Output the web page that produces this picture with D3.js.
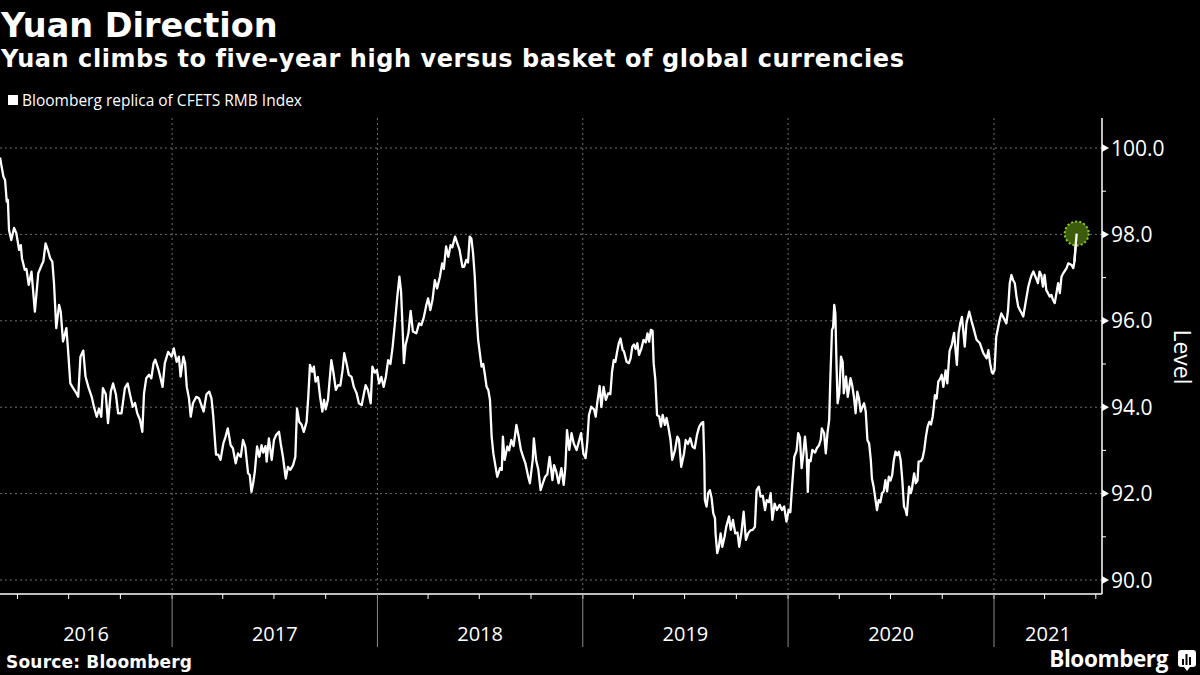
<!DOCTYPE html>
<html><head><meta charset="utf-8">
<script src="https://cdn.jsdelivr.net/npm/d3@7"></script>
<style>
html,body{margin:0;padding:0;background:#000;}
svg{display:block;}
</style></head>
<body>
<svg id="chart" width="1200" height="675"></svg>
<script>
// ---- DATA: [day of year, index level] per calendar year ----
const obs2016 = [[61,99.78],[67,99.34],[70,99.26],[73,98.76],[75,98.8],[77,98.1],[81,97.87],[86,98.15],[90,98.03],[95,97.64],[98,97.75],[100,97.45],[105,97.18],[108,97.2],[112,96.83],[117,97.14],[123,96.21],[129,97.1],[135,97.29],[138,97.37],[142,97.79],[147,97.6],[150,97.45],[154,97.37],[157,96.87],[161,95.83],[166,96.37],[169,96.21],[173,95.52],[179,95.83],[182,95.32],[186,94.55],[191,94.44],[197,94.32],[200,94.24],[204,95.17],[209,95.31],[213,94.71],[218,94.47],[224,94.24],[228,94.01],[233,93.78],[237,93.97],[241,93.78],[244,94.44],[249,94.3],[253,93.63],[258,94.36],[262,94.55],[267,94.3],[271,93.86],[277,93.86],[283,94.44],[288,94.55],[292,94.3],[297,94.01],[301,94.1],[305,93.86],[310,93.7],[314,93.43],[317,94.32],[321,94.67],[326,94.75],[330,94.67],[334,95.02],[337,95.1],[342,94.9],[345,94.75],[350,94.47],[354,95.02],[360,95.28],[366,95.17]];
const obs2017 = [[4,95.36],[9,95.05],[13,95.17],[16,94.71],[21,95.17],[24,95.02],[27,94.47],[31,94.2],[34,93.78],[38,94.09],[44,94.24],[49,94.2],[53,94.05],[57,93.9],[62,94.3],[67,94.36],[71,94.2],[74,93.8],[79,92.9],[83,92.9],[87,92.78],[92,93.16],[96,93.32],[100,93.51],[105,93.12],[109,93.05],[114,92.7],[118,92.93],[123,92.85],[127,93.24],[131,93.09],[136,92.47],[139,92.43],[142,92.04],[145,92.24],[148,92.51],[152,93.09],[156,92.85],[160,93.12],[163,92.95],[167,93.1],[169,92.74],[173,93.28],[178,92.78],[182,93.24],[186,93.36],[191,93.43],[194,93.16],[198,92.85],[203,92.35],[207,92.62],[211,92.55],[216,92.66],[220,92.85],[223,93.97],[227,93.66],[231,93.6],[235,93.43],[240,93.66],[243,94.24],[246,94.98],[250,94.82],[253,94.94],[256,94.59],[260,94.7],[264,94.24],[268,93.9],[271,94.17],[274,93.95],[278,94.17],[281,94.63],[284,95.09],[288,94.78],[292,94.4],[296,94.51],[300,94.5],[304,94.86],[307,95.25],[311,95.02],[315,94.75],[320,94.7],[324,94.47],[329,94.32],[333,94.09],[338,94.05],[342,94.32],[345,94.51],[349,94.4],[354,94.09],[357,94.94],[361,94.8],[365,94.86]];
const obs2018 = [[4,94.55],[8,94.7],[12,94.47],[16,94.71],[20,95.09],[24,95.0],[28,95.4],[32,95.94],[36,96.52],[40,97.02],[43,96.67],[46,95.71],[48,95.02],[51,95.44],[56,95.71],[60,96.23],[64,95.75],[70,95.71],[75,95.94],[79,95.9],[83,96.06],[88,96.37],[91,96.52],[95,96.25],[99,96.5],[103,96.94],[107,96.75],[112,97.02],[116,97.33],[119,97.2],[123,97.72],[127,97.48],[131,97.75],[134,97.7],[139,97.95],[143,97.79],[147,97.64],[152,97.25],[155,97.25],[159,97.41],[162,97.35],[165,97.95],[168,97.9],[171,97.56],[174,97.02],[177,96.17],[180,95.56],[183,95.25],[186,94.94],[189,95.0],[192,94.75],[195,94.47],[198,94.4],[201,94.17],[204,93.32],[207,92.93],[211,92.62],[214,92.39],[219,92.59],[222,92.55],[224,93.32],[227,92.78],[232,93.09],[235,93.0],[239,93.24],[243,93.1],[248,93.59],[252,93.32],[256,93.01],[260,92.85],[264,92.7],[269,92.39],[272,92.24],[277,92.78],[279,93.28],[283,92.78],[287,92.55],[291,92.08],[295,92.24],[299,92.39],[303,92.45],[307,92.85],[312,92.31],[315,92.66],[319,92.5],[323,92.24],[328,92.59],[332,92.2],[335,92.6],[338,93.47],[342,93.01],[346,93.4],[350,93.16],[355,93.01],[359,93.2],[363,93.4]];
const obs2019 = [[2,92.93],[6,92.82],[9,93.2],[12,93.82],[16,94.01],[21,93.95],[24,93.78],[27,94.13],[31,94.49],[34,94.0],[38,94.47],[42,94.17],[46,94.32],[50,94.3],[53,94.82],[56,95.09],[59,95.05],[62,95.28],[65,95.48],[68,95.59],[72,95.32],[74,95.3],[79,95.05],[83,95.02],[86,95.13],[89,95.4],[92,95.45],[95,95.35],[98,95.48],[101,95.21],[105,95.35],[109,95.56],[113,95.5],[116,95.71],[119,95.52],[122,95.79],[125,95.77],[127,95.02],[130,94.63],[133,93.82],[137,93.78],[140,93.55],[143,93.82],[147,93.59],[150,93.75],[153,93.55],[157,93.24],[160,92.78],[165,93.01],[169,93.32],[172,93.25],[176,92.62],[181,92.93],[184,93.24],[188,93.15],[192,93.28],[196,93.09],[200,93.05],[204,93.36],[208,93.55],[212,93.63],[215,93.66],[217,92.78],[218,91.85],[221,91.7],[224,92.01],[227,92.08],[230,91.9],[233,91.54],[236,91.43],[237,91.08],[240,90.62],[243,90.77],[246,91.08],[249,90.77],[253,91.0],[256,91.23],[261,91.47],[264,91.16],[268,91.39],[272,91.08],[276,91.1],[279,90.77],[283,91.1],[287,91.58],[291,90.93],[295,91.08],[299,91.15],[303,91.16],[307,91.23],[310,92.08],[314,92.16],[317,91.93],[321,91.95],[325,91.62],[328,91.85],[332,91.8],[335,92.01],[338,91.39],[342,91.77],[346,91.62],[351,91.74],[355,91.62],[359,91.7],[363,91.35]];
const obs2020 = [[2,91.62],[5,91.57],[8,92.16],[12,92.85],[16,92.99],[19,93.4],[22,93.3],[25,92.59],[28,92.9],[31,93.32],[34,92.9],[36,92.04],[38,92.78],[41,92.75],[44,93.01],[49,92.95],[52,93.05],[56,93.12],[59,93.25],[61,93.51],[65,93.4],[68,92.93],[71,93.4],[74,93.7],[76,94.63],[79,95.79],[81,95.85],[83,96.37],[85,96.17],[87,95.02],[89,94.09],[92,94.32],[95,95.17],[98,95.05],[100,94.32],[104,94.71],[107,94.24],[109,94.4],[112,94.67],[115,94.5],[118,94.24],[121,93.86],[124,94.36],[127,94.2],[130,93.9],[133,94.0],[136,94.09],[139,93.9],[142,93.24],[145,93.16],[148,92.78],[150,92.35],[153,92.16],[156,91.89],[159,91.62],[162,91.85],[165,91.8],[168,92.01],[171,92.05],[174,92.31],[177,92.05],[180,92.39],[183,92.3],[186,92.43],[189,92.78],[192,92.97],[195,92.89],[198,92.97],[201,92.78],[204,92.31],[207,91.7],[210,91.62],[212,91.5],[216,92.16],[219,92.01],[221,92.1],[225,92.47],[228,92.24],[231,92.3],[233,92.74],[237,92.75],[240,92.82],[243,93.01],[246,93.32],[249,93.55],[252,93.66],[255,93.6],[258,93.78],[260,94.01],[262,94.28],[265,94.2],[268,94.59],[271,94.65],[274,94.75],[277,94.47],[281,94.85],[284,94.55],[288,95.3],[292,95.45],[296,95.72],[301,94.98],[304,95.71],[307,95.94],[310,96.09],[315,95.4],[318,95.94],[323,96.21],[327,96.0],[330,95.86],[336,95.56],[342,95.48],[348,95.25],[354,95.13],[357,95.32],[360,95.02],[363,94.82],[365,94.78]];
const obs2021 = [[2,94.86],[5,95.63],[11,96.02],[14,96.17],[17,96.1],[23,95.94],[26,96.25],[29,96.87],[32,97.06],[35,96.94],[38,96.87],[41,96.56],[44,96.33],[47,96.25],[50,96.18],[53,96.1],[56,96.33],[59,96.56],[62,96.79],[65,96.94],[68,97.06],[71,97.14],[76,96.98],[79,96.87],[82,97.14],[85,97.06],[88,96.79],[91,97.06],[94,96.71],[97,96.64],[100,96.56],[103,96.6],[106,96.48],[109,96.41],[112,96.64],[115,96.87],[118,96.64],[121,97.02],[124,97.1],[130,97.22],[133,97.33],[139,97.29],[142,97.22],[144,97.37],[146,97.72],[148,98.02]];
const seriesByYear = {2016: obs2016, 2017: obs2017, 2018: obs2018, 2019: obs2019, 2020: obs2020, 2021: obs2021};
const xDomain = ["2016-03-01", "2021-07-12"];
const yTicks = [90, 92, 94, 96, 98, 100];
const yMinorTicks = [91, 93, 95, 97, 99];
const titleText = "Yuan Direction";
const subtitleText = "Yuan climbs to five-year high versus basket of global currencies";
const legendText = "Bloomberg replica of CFETS RMB Index";
const axisTitle = "Level";
const sourceText = "Source: Bloomberg";

// ---- BUILD ----
const parseDOY = d3.utcParse("%Y-%j");
const parseISO = d3.utcParse("%Y-%m-%d");
const data = [];
Object.keys(seriesByYear).forEach(yr => {
  seriesByYear[yr].forEach(([doy, v]) => {
    data.push({date: parseDOY(yr + "-" + String(doy).padStart(3, "0")), value: v});
  });
});

const svg = d3.select("#chart");
const W = 1200, H = 675;
const plot = {left: 0, right: 1102, top: 118, bottom: 594};

const x = d3.scaleUtc().domain(xDomain.map(parseISO)).range([plot.left, plot.right]);
const y = d3.scaleLinear().domain([90, 100]).range([580, 148]);

svg.append("rect").attr("width", W).attr("height", H).attr("fill", "#000");

const FONT = "'Open Sans', 'Noto Sans', sans-serif";
const BOLD = "'DejaVu Sans', sans-serif";

// Titles
svg.append("text").attr("x", 1).attr("y", 36.5).text(titleText)
  .attr("fill", "#fff").attr("font-family", BOLD).attr("font-weight", "bold").attr("font-size", 33.5);
svg.append("text").attr("x", 1).attr("y", 67).text(subtitleText)
  .attr("fill", "#fff").attr("font-family", BOLD).attr("font-weight", "bold").attr("font-size", 24)
  .attr("letter-spacing", 0.55);

// Legend
svg.append("rect").attr("x", 8).attr("y", 95).attr("width", 10).attr("height", 10).attr("fill", "#fff");
svg.append("text").attr("x", 22).attr("y", 105.5).text(legendText)
  .attr("fill", "#fff").attr("font-family", FONT).attr("font-size", 15.5);

// Gridlines
const grid = svg.append("g");
grid.selectAll("line.h").data(yTicks).join("line")
  .attr("x1", plot.left).attr("x2", plot.right)
  .attr("y1", d => y(d)).attr("y2", d => y(d))
  .attr("stroke", "#6e6e6e").attr("stroke-width", 1).attr("stroke-dasharray", "2,3");
const yearStarts = d3.utcYear.range(x.domain()[0], x.domain()[1]).filter(d => d > x.domain()[0]);
grid.selectAll("line.v").data(yearStarts).join("line")
  .attr("x1", d => x(d)).attr("x2", d => x(d))
  .attr("y1", plot.top).attr("y2", plot.bottom)
  .attr("stroke", "#6e6e6e").attr("stroke-width", 1).attr("stroke-dasharray", "2,3");

// Line
const line = d3.line().x(d => x(d.date)).y(d => y(d.value));
svg.append("path").datum(data).attr("d", line)
  .attr("fill", "none").attr("stroke", "#fff").attr("stroke-width", 2.3).attr("stroke-linejoin", "round");

// Last point marker
const last = data[data.length - 1];
svg.append("circle").attr("cx", x(last.date)).attr("cy", y(last.value)).attr("r", 12)
  .attr("fill", "#3c5c0c").attr("stroke", "#8ccc1e").attr("stroke-width", 2).attr("stroke-dasharray", "2,2.2");
svg.append("path").datum(data.slice(-3)).attr("d", line)
  .attr("fill", "none").attr("stroke", "#fff").attr("stroke-width", 2.3);

// Right axis
const yAxis = svg.append("g");
yAxis.append("line").attr("x1", plot.right).attr("x2", plot.right).attr("y1", plot.top).attr("y2", plot.bottom)
  .attr("stroke", "#fff").attr("stroke-width", 1.5);
yAxis.selectAll("path.tri").data(yTicks).join("path")
  .attr("d", d => `M${plot.right},${y(d) - 4}L${plot.right + 7},${y(d)}L${plot.right},${y(d) + 4}Z`)
  .attr("fill", "#fff");
yAxis.selectAll("line.minor").data(yMinorTicks).join("line")
  .attr("x1", plot.right).attr("x2", plot.right + 4).attr("y1", d => y(d)).attr("y2", d => y(d))
  .attr("stroke", "#fff").attr("stroke-width", 1);
yAxis.selectAll("text").data(yTicks).join("text")
  .attr("x", plot.right + 9).attr("y", d => y(d) + 7.5)
  .text(d => d.toFixed(1))
  .attr("fill", "#fff").attr("font-family", FONT).attr("font-size", 21);
svg.append("text").attr("transform", `translate(1174,357) rotate(90)`)
  .attr("text-anchor", "middle").text(axisTitle)
  .attr("fill", "#fff").attr("font-family", FONT).attr("font-size", 23);

// Bottom axis
const xAxis = svg.append("g");
xAxis.append("line").attr("x1", plot.left).attr("x2", plot.right).attr("y1", plot.bottom).attr("y2", plot.bottom)
  .attr("stroke", "#fff").attr("stroke-width", 1.5);
const quarters = d3.utcMonth.every(3).range(x.domain()[0], x.domain()[1]);
xAxis.selectAll("line.q").data(quarters).join("line")
  .attr("x1", d => x(d)).attr("x2", d => x(d)).attr("y1", plot.bottom).attr("y2", plot.bottom + 5)
  .attr("stroke", "#fff").attr("stroke-width", 1);
xAxis.selectAll("line.yr").data(yearStarts).join("line")
  .attr("x1", d => x(d)).attr("x2", d => x(d)).attr("y1", plot.bottom).attr("y2", 647)
  .attr("stroke", "#8a8a8a").attr("stroke-width", 1);
const years = d3.utcYear.range(d3.utcYear.floor(x.domain()[0]), x.domain()[1]);
xAxis.selectAll("text").data(years).join("text")
  .attr("x", d => {
    const a = Math.max(x(d), plot.left), b = Math.min(x(d3.utcYear.offset(d, 1)), plot.right);
    return (a + b) / 2;
  })
  .attr("y", 641).attr("text-anchor", "middle")
  .text(d => d3.utcFormat("%Y")(d))
  .attr("fill", "#fff").attr("font-family", FONT).attr("font-size", 20);

// Footer
svg.append("text").attr("x", 6).attr("y", 668).text(sourceText)
  .attr("fill", "#fff").attr("font-family", BOLD).attr("font-weight", "bold").attr("font-size", 17)
  .attr("letter-spacing", 0.2);
svg.append("text").attr("x", 1168).attr("y", 667).attr("text-anchor", "end").text("Bloomberg")
  .attr("fill", "#fff").attr("font-family", FONT).attr("font-weight", "bold").attr("font-size", 22.5)
  .attr("letter-spacing", -0.4);
const logo = svg.append("g").attr("transform", "translate(1178,650)");
logo.append("rect").attr("width", 18).attr("height", 17).attr("rx", 3).attr("fill", "#fff");
logo.append("path").attr("d", "M6,17L9,21L12,17Z").attr("fill", "#fff");
[[4, 9, 2, 6], [7.5, 4, 2, 11], [11, 7, 2, 8]].forEach(b =>
  logo.append("rect").attr("x", b[0]).attr("y", b[1]).attr("width", b[2]).attr("height", b[3]).attr("fill", "#000"));
</script>
</body></html>
